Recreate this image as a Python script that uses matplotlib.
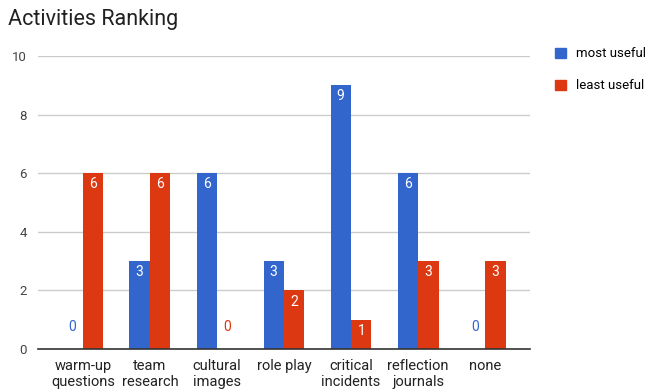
import numpy as np
import matplotlib
matplotlib.use("Agg")
import matplotlib.pyplot as plt
from matplotlib.patches import Patch

plt.rcParams['font.family'] = ['Roboto', 'DejaVu Sans']

categories = ["warm-up\nquestions", "team\nresearch", "cultural\nimages", "role play",
              "critical\nincidents", "reflection\njournals", "none"]
most_useful = [0, 3, 6, 3, 9, 6, 0]
least_useful = [6, 6, 0, 2, 1, 3, 3]
series_names = ["most useful", "least useful"]
colors = ["#3366cc", "#dc3912"]

fig = plt.figure(figsize=(6.46, 3.91), dpi=100)
ax = fig.add_axes([38 / 646, 42 / 391, 492 / 646, 293 / 391])

x = np.arange(len(categories))
w = 0.3
off = 0.155
for vals, dx, c in [(most_useful, -off, colors[0]), (least_useful, off, colors[1])]:
    bars = ax.bar(x + dx, vals, width=w, color=c, zorder=3)
    for xi, v in zip(x + dx, vals):
        if v > 0:
            ax.annotate(str(v), (xi, v), xytext=(0, -8), textcoords="offset points",
                        ha="center", va="center", color="white", fontsize=10, zorder=4)
        else:
            ax.annotate(str(v), (xi, 0), xytext=(0, 16), textcoords="offset points",
                        ha="center", va="center", color=c, fontsize=10, zorder=4)

ax.set_xlim(-0.67, 6.67)
ax.set_ylim(0, 10)
ax.set_yticks([0, 2, 4, 6, 8, 10])
ax.set_xticks(x)
ax.set_xticklabels(categories, fontsize=10.5, color="#222222", linespacing=1.2)
ax.tick_params(axis="y", length=0, pad=8, labelsize=9.5, labelcolor="#444444")
ax.tick_params(axis="x", length=0, pad=7)
ax.grid(axis="y", color="#cccccc", linewidth=1, zorder=0)
for s in ["top", "right", "left"]:
    ax.spines[s].set_visible(False)
ax.spines["bottom"].set_color("#333333")
ax.spines["bottom"].set_linewidth(1.2)
ax.spines["bottom"].set_zorder(5)

fig.text(8 / 646, 1 - 20 / 391, "Activities Ranking", fontsize=15.5, color="#212121",
         ha="left", va="center")

handles = [Patch(color=c) for c in colors]
fig.legend(handles, series_names, loc="upper left", bbox_to_anchor=(550 / 646, 1 - 42 / 391),
           frameon=False, fontsize=9.5, handlelength=0.8, handleheight=0.8,
           labelspacing=1.45, handletextpad=0.8, borderaxespad=0)

fig.savefig("out.png", dpi=100)
